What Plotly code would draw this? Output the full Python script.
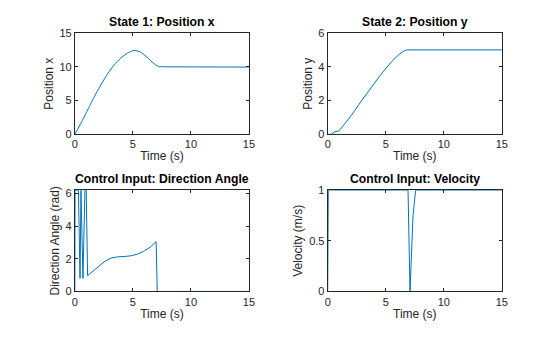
import plotly.graph_objects as go
from plotly.subplots import make_subplots

# ---- data ----
t_x = [0, 0.59, 1.15, 1.71, 2.28, 2.84, 3.4, 3.96, 4.52, 5.08, 5.65, 6.21, 6.77, 7.19, 7.6, 10, 15]
pos_x = [0, 1.86, 3.76, 5.67, 7.43, 9.0, 10.3, 11.3, 12.0, 12.43, 12.19, 11.43, 10.52, 10.05, 10.0, 9.98, 9.95]

t_y = [0, 0.35, 0.55, 0.95, 1.1, 1.53, 2.1, 2.67, 3.24, 3.8, 4.37, 4.94, 5.5, 6.08, 6.5, 6.8, 15]
pos_y = [0, 0.0, 0.13, 0.2, 0.3, 0.65, 1.18, 1.75, 2.3, 2.84, 3.35, 3.85, 4.3, 4.69, 4.91, 5.0, 5.0]

t_ang = [0, 0.02, 0.31, 0.45, 0.53, 0.70, 0.87, 0.98, 1.10, 1.43, 2.0, 2.56, 3.12, 3.68,
         4.24, 4.8, 5.37, 5.93, 6.49, 7.0, 7.1, 15]
angle = [0, 6.2, 6.2, 0.8, 6.2, 0.8, 6.2, 6.2, 0.97, 1.16, 1.49, 1.83, 2.04, 2.12,
         2.14, 2.18, 2.28, 2.46, 2.71, 3.05, 0, 0]

t_vel = [0, 0.05, 6.92, 7.09, 7.35, 7.57, 15]
velocity = [0, 1, 1, 0, 0.75, 1, 1]

titles = ["State 1: Position x", "State 2: Position y",
          "Control Input: Direction Angle", "Control Input: Velocity"]
ylabels = ["Position x", "Position y", "Direction Angle (rad)", "Velocity (m/s)"]
xticks = [0, 5, 10, 15]
yticks = [[0, 5, 10, 15], [0, 2, 4, 6], [0, 2, 4, 6], [0, 0.5, 1]]
yranges = [[0, 15], [0, 6], [0, 6.2], [0, 1]]

W, H = 560, 337
LINE = "#0072BD"
AX = "#262626"
FONT = "Liberation Sans, Arial, Helvetica, sans-serif"

fig = make_subplots(rows=2, cols=2)
series = [(t_x, pos_x, "spline"), (t_y, pos_y, "linear"), (t_ang, angle, "linear"), (t_vel, velocity, "linear")]
for i, (tt, vv, shp) in enumerate(series):
    r, c = i // 2 + 1, i % 2 + 1
    fig.add_trace(go.Scatter(x=tt, y=vv, mode="lines",
                             line=dict(color=LINE, width=1, shape=shp, smoothing=0.5),
                             showlegend=False, hoverinfo="skip"), row=r, col=c)

# domains (pixels -> paper)
xd = [(73 / W, 250 / W), (330 / W, 507 / W)]
yd = [(1 - 133 / H, 1 - 28 / H), (1 - 296 / H, 1 - 191 / H)]

for i in range(4):
    r, c = i // 2, i % 2
    n = "" if i == 0 else str(i + 1)
    axstyle = dict(showline=True, linecolor=AX, linewidth=1, mirror="ticks",
                   ticks="inside", ticklen=3, tickcolor=AX, showgrid=False, zeroline=False,
                   tickfont=dict(family=FONT, size=11, color=AX))
    fig.layout["xaxis" + n].update(domain=list(xd[c]), range=[0, 15], tickvals=xticks,
                                   title=dict(text="Time (s)", font=dict(family=FONT, size=12, color=AX), standoff=2),
                                   **axstyle)
    fig.layout["yaxis" + n].update(domain=list(yd[r]), range=yranges[i], tickvals=yticks[i],
                                   title=dict(text=ylabels[i], font=dict(family=FONT, size=12, color=AX), standoff=3),
                                   **axstyle)
    xc = (xd[c][0] + xd[c][1]) / 2
    fig.add_annotation(text="<b>" + titles[i] + "</b>", x=xc, y=yd[r][1], xref="paper", yref="paper",
                       xanchor="center", yanchor="bottom", yshift=2, showarrow=False,
                       font=dict(family=FONT, size=12.2, color="#000000"))

fig.update_layout(width=W, height=H, margin=dict(l=0, r=0, t=0, b=0),
                  paper_bgcolor="white", plot_bgcolor="white",
                  font=dict(family=FONT, color=AX))
fig.write_html("out.html")
